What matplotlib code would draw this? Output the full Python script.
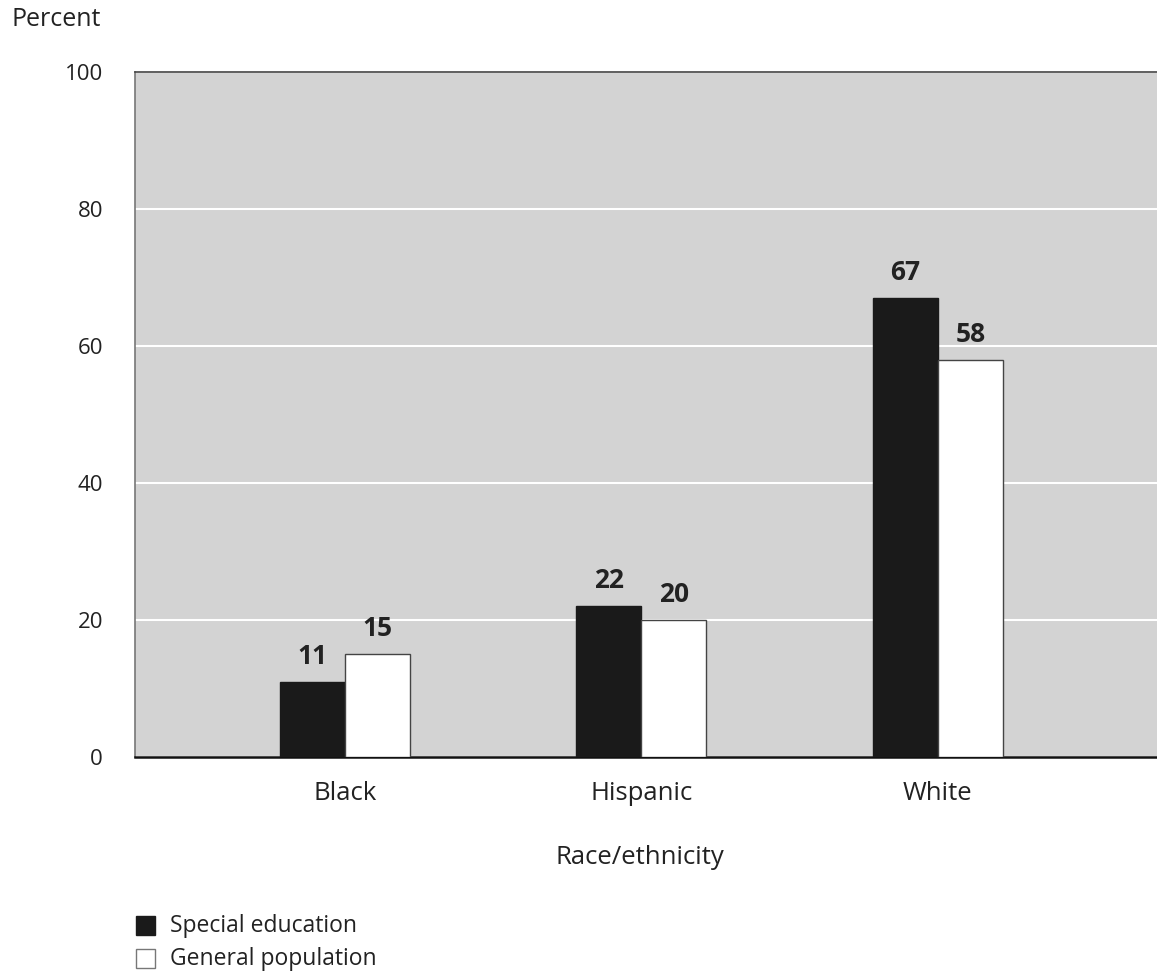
import matplotlib
matplotlib.use("Agg")
import matplotlib.pyplot as plt
from matplotlib.patches import Rectangle
import numpy as np

plt.rcParams['font.family'] = ['Open Sans', 'DejaVu Sans']

categories = ["Black", "Hispanic", "White"]
special_ed = [11, 22, 67]
general_pop = [15, 20, 58]
yticks = [0, 20, 40, 60, 80, 100]
series_names = ["Special education", "General population"]

W, H = 1157, 977
fig = plt.figure(figsize=(W / 100, H / 100), dpi=100)
ax = fig.add_axes([135 / W, 1 - 757 / H, 1 - 135 / W, (757 - 72) / H])
ax.set_facecolor("#d3d3d3")

x = np.arange(len(categories))
bw = 0.219
b1 = ax.bar(x - bw / 2, special_ed, bw, color="#1a1a1a", edgecolor="#1a1a1a", linewidth=1, zorder=3)
b2 = ax.bar(x + bw / 2, general_pop, bw, color="white", edgecolor="#444444", linewidth=1, zorder=3)

for bars, vals in ((b1, special_ed), (b2, general_pop)):
    for r, v in zip(bars, vals):
        ax.text(r.get_x() + r.get_width() / 2, v + 2.6, str(v), ha="center", va="baseline",
                fontsize=19, fontweight="bold", color="#222222")

ax.set_xlim(-0.708, 2.739)
ax.set_ylim(0, 100)
ax.set_yticks(yticks)
ax.set_yticklabels([str(t) for t in yticks], fontsize=16, color="#222222")
ax.set_xticks(x)
ax.set_xticklabels(categories, fontsize=18.5, color="#222222")
ax.tick_params(axis="both", length=0)
ax.tick_params(axis="y", pad=23)
ax.tick_params(axis="x", pad=17)
ax.yaxis.grid(True, color="white", linewidth=1.5, zorder=0)
ax.set_axisbelow(True)

ax.spines["right"].set_visible(False)
ax.spines["top"].set_color("#444444")
ax.spines["top"].set_linewidth(1.2)
ax.spines["left"].set_color("#777777")
ax.spines["left"].set_linewidth(1.2)
ax.spines["bottom"].set_color("#111111")
ax.spines["bottom"].set_linewidth(1.8)

fig.text(12 / W, 1 - 20 / H, "Percent", fontsize=18, color="#222222", ha="left", va="center")
fig.text(640 / W, 1 - 857 / H, "Race/ethnicity", fontsize=18.5, color="#222222", ha="center", va="center")

# legend
for i, (name, fc, ec) in enumerate(zip(series_names, ["#1a1a1a", "white"], ["#1a1a1a", "#777777"])):
    yc = 926 + i * 33
    fig.patches.append(Rectangle((136 / W, 1 - (yc + 9) / H), 19 / W, 19 / H, transform=fig.transFigure,
                                 facecolor=fc, edgecolor=ec, linewidth=1))
    fig.text(170 / W, 1 - yc / H, name, fontsize=16.5, color="#222222", ha="left", va="center")

fig.savefig("out.png", dpi=100)
